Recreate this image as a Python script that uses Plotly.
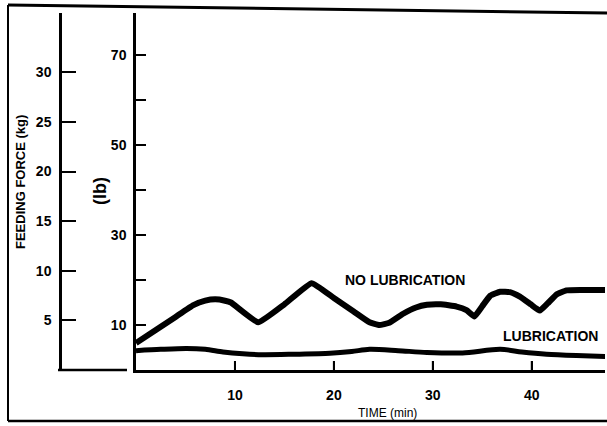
import plotly.graph_objects as go

W, H = 607, 426

# Data (time in min, force in lb)
time_nolub = [0, 2, 4, 5.8, 7, 8, 9, 9.6, 12.35, 15, 17.75, 20, 22, 23.6, 24.6, 25.6, 27, 28.3, 29.4, 30.8,
              32.4, 33.4, 34.2, 35.0, 35.8, 36.8, 37.8, 38.8, 39.9, 40.8, 41.6, 42.5, 43.5, 45, 47.5]
force_nolub = [6.0, 8.9, 11.8, 14.4, 15.4, 15.7, 15.4, 15.0, 10.6, 14.6, 19.3, 16.0, 13.0, 10.6, 10.0, 10.5,
               12.5, 13.9, 14.5, 14.6, 14.1, 13.3, 11.9, 14.2, 16.5, 17.4, 17.3, 16.3, 14.6, 13.2, 14.8,
               16.8, 17.7, 17.8, 17.8]

time_lub = [0, 2.5, 5.1, 7, 8.8, 10.8, 12.8, 16, 19.6, 21.8, 23.6, 26.5, 29.4, 33, 36.8, 39, 41.5, 44.5, 47.5]
force_lub = [4.3, 4.6, 4.8, 4.6, 4.0, 3.6, 3.4, 3.5, 3.7, 4.1, 4.6, 4.3, 3.9, 3.8, 4.6, 4.0, 3.5, 3.2, 3.0]

x_ticks = [10, 20, 30, 40]
lb_ticks = [10, 20, 30, 40, 50, 60, 70]
lb_labels = ["10", "", "30", "", "50", "", "70"]
kg_ticks = [5, 10, 15, 20, 25, 30]
kg_labels = ["5", "10", "15", "20", "25", "30"]

series_labels = ["NO LUBRICATION", "LUBRICATION"]


def px(x):
    return x / W


def py(y):
    return 1 - y / H


LB_MAX = (370 - 13) / 4.5
KG_MAX = LB_MAX / 2.2046

fig = go.Figure()
fig.add_trace(go.Scatter(x=time_nolub, y=force_nolub, mode="lines",
                         line=dict(color="black", width=6, shape="spline", smoothing=0.35),
                         showlegend=False, hoverinfo="skip"))
fig.add_trace(go.Scatter(x=time_lub, y=force_lub, mode="lines",
                         line=dict(color="black", width=5, shape="spline", smoothing=0.8),
                         showlegend=False, hoverinfo="skip"))
# dummy trace to show the kg axis
fig.add_trace(go.Scatter(x=[None], y=[None], yaxis="y2", showlegend=False, hoverinfo="skip"))

tickfont = dict(family="Liberation Sans, Arial, sans-serif", size=14, color="black", weight="bold")
textfont = dict(family="Liberation Sans, Arial, sans-serif", size=14, color="black")

fig.update_layout(
    width=W, height=H,
    margin=dict(l=0, r=0, t=0, b=0),
    paper_bgcolor="white", plot_bgcolor="white",
    showlegend=False,
    xaxis=dict(domain=[px(136), px(605)], range=[0, 47.4], showline=True, linewidth=2.5,
               linecolor="black", ticks="inside", ticklen=9, tickwidth=1.5, tickcolor="black",
               tickvals=x_ticks, tickfont=tickfont,
               ticklabelstandoff=10, showgrid=False, zeroline=False, anchor="y"),
    yaxis=dict(domain=[py(370), py(13)], range=[0, LB_MAX], showline=True, linewidth=2.5,
               linecolor="black", ticks="inside", ticklen=10, tickwidth=1.5, tickcolor="black",
               tickvals=lb_ticks, ticktext=lb_labels, tickfont=tickfont, ticklabelstandoff=4,
               showgrid=False, zeroline=False),
    yaxis2=dict(domain=[py(370), py(13)], range=[0, KG_MAX], overlaying="y", anchor="free",
                position=px(60), side="left", showline=True, linewidth=2.5, linecolor="black",
                ticks="inside", ticklen=14, tickwidth=1.5, tickcolor="black",
                tickvals=kg_ticks, ticktext=kg_labels, tickfont=tickfont, ticklabelstandoff=5,
                showgrid=False, zeroline=False),
)

shapes = [
    # outer frame
    dict(type="line", xref="paper", yref="paper", x0=px(8), y0=py(5), x1=px(607), y1=py(13),
         line=dict(color="black", width=3)),
    dict(type="line", xref="paper", yref="paper", x0=px(8), y0=py(5), x1=px(8), y1=py(421),
         line=dict(color="black", width=2)),
    dict(type="line", xref="paper", yref="paper", x0=px(8), y0=py(421), x1=px(607), y1=py(421),
         line=dict(color="black", width=2.5)),
    # kg axis bottom
    dict(type="line", xref="paper", yref="paper", x0=px(58), y0=py(370), x1=px(127), y1=py(370),
         line=dict(color="black", width=2.5)),
]
# x-axis tick marks pointing up into the plot, placed on the axis scales
for t in x_ticks:
    shapes.append(dict(type="line", xref="x", yref="y", x0=t, x1=t, y0=0, y1=2,
                       line=dict(color="black", width=2), layer="above"))
fig.update_layout(shapes=shapes)

annotations = [
    dict(text=series_labels[0], x=px(405), y=py(280), xref="paper", yref="paper",
         showarrow=False, font=dict(textfont, weight="bold"), xanchor="center", yanchor="middle"),
    dict(text=series_labels[1], x=px(550), y=py(336), xref="paper", yref="paper",
         showarrow=False, font=dict(textfont, weight="bold"), xanchor="center", yanchor="middle"),
    dict(text="TIME (min)", x=px(388), y=py(413), xref="paper", yref="paper",
         showarrow=False, font=dict(textfont, size=12), xanchor="center", yanchor="middle"),
    dict(text="FEEDING FORCE (kg)", x=px(21), y=py(182), xref="paper", yref="paper",
         showarrow=False, font=dict(textfont, size=13, weight="bold"), textangle=-90,
         xanchor="center", yanchor="middle"),
    dict(text="(lb)", x=px(100), y=py(191), xref="paper", yref="paper",
         showarrow=False, font=dict(textfont, size=18, weight="bold"), textangle=-90,
         xanchor="center", yanchor="middle"),
]
fig.update_layout(annotations=annotations)

fig.write_html("out.html", config={"displayModeBar": False},
               post_script="document.body.style.margin='0';document.body.style.overflow='hidden';")
